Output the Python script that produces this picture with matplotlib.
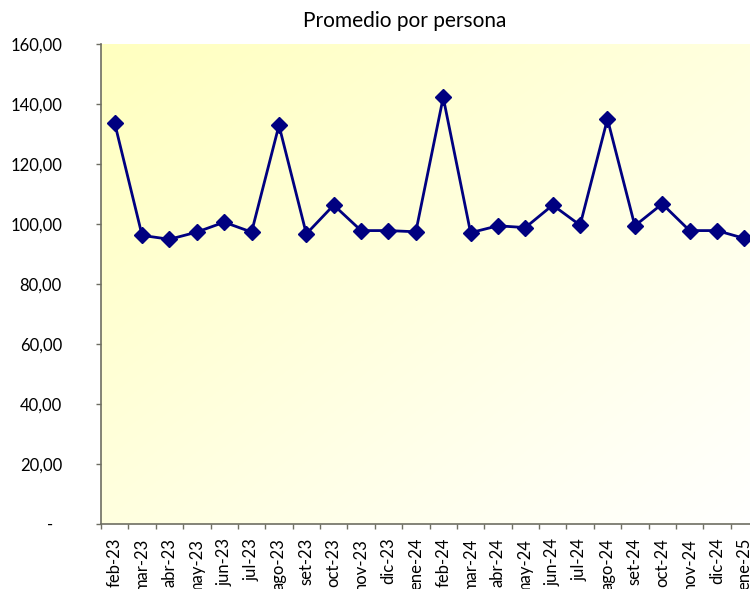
"""
Promedio por persona - monthly average per person, feb-23 to ene-25.
"""

import numpy as np
import matplotlib
matplotlib.use("Agg")
import matplotlib.pyplot as plt
from matplotlib.ticker import FixedLocator, FuncFormatter

months = [
    "feb-23", "mar-23", "abr-23", "may-23", "jun-23", "jul-23",
    "ago-23", "set-23", "oct-23", "nov-23", "dic-23", "ene-24",
    "feb-24", "mar-24", "abr-24", "may-24", "jun-24", "jul-24",
    "ago-24", "set-24", "oct-24", "nov-24", "dic-24", "ene-25",
]
promedio = [
    133.6, 96.2, 94.9, 97.3, 100.6, 97.3,
    132.9, 96.7, 106.3, 97.8, 97.8, 97.4,
    142.2, 97.1, 99.4, 98.8, 106.3, 99.6,
    135.0, 99.4, 106.7, 97.8, 97.8, 95.2,
]
y_ticks = [0, 20, 40, 60, 80, 100, 120, 140, 160]

NAVY = "#000080"
AXIS_GRAY = "#6e6e62"

plt.rcParams["font.family"] = ["Lato", "DejaVu Sans"]


def fmt_es(v, _pos=None):
    """Excel accounting style: comma decimal, dash for zero."""
    if v == 0:
        return "-  "
    return f"{v:,.2f}".replace(",", "X").replace(".", ",").replace("X", ".")


fig = plt.figure(figsize=(7.5, 5.89), dpi=100)
ax = fig.add_axes([0.1347, 0.1104, 0.876, 0.8149])

# diagonal gradient: pale yellow top-left -> white bottom-right
gx, gy = np.meshgrid(np.linspace(0, 1, 200), np.linspace(0, 1, 200))
t = np.clip((gx + gy) / 2.0, 0, 1)
top = np.array([1.0, 1.0, 0.75])
bottom = np.array([1.0, 1.0, 1.0])
grad = top[None, None, :] * (1 - t[..., None]) + bottom[None, None, :] * t[..., None]
ax.imshow(grad, extent=[0, 1, 0, 1], transform=ax.transAxes,
          aspect="auto", origin="upper", zorder=0)

x = np.arange(len(months))
ax.plot(x, promedio, color=NAVY, lw=2, marker="D", ms=8.5,
        markerfacecolor=NAVY, markeredgecolor=NAVY, zorder=3)

ax.set_xlim(-0.5, len(months) - 0.5)
ax.set_ylim(0, 160)

ax.set_yticks(y_ticks)
ax.yaxis.set_major_formatter(FuncFormatter(fmt_es))
ax.tick_params(axis="y", direction="out", length=3.6, width=1,
               color=AXIS_GRAY, pad=24.5, labelsize=12)

ax.set_xticks(x)
ax.set_xticklabels(months, rotation=90, fontsize=12)
ax.tick_params(axis="x", which="major", length=0, pad=10)
ax.xaxis.set_minor_locator(FixedLocator(np.arange(-0.5, len(months), 1.0)))
ax.tick_params(axis="x", which="minor", direction="out", length=3.6,
               width=1, color=AXIS_GRAY)

for side in ["top", "right"]:
    ax.spines[side].set_visible(False)
for side in ["left", "bottom"]:
    ax.spines[side].set_color(AXIS_GRAY)
    ax.spines[side].set_linewidth(1.2)

fig.text(0.54, 0.964, "Promedio por persona", ha="center", va="center",
         fontsize=15)

fig.savefig("out.png", dpi=100)
